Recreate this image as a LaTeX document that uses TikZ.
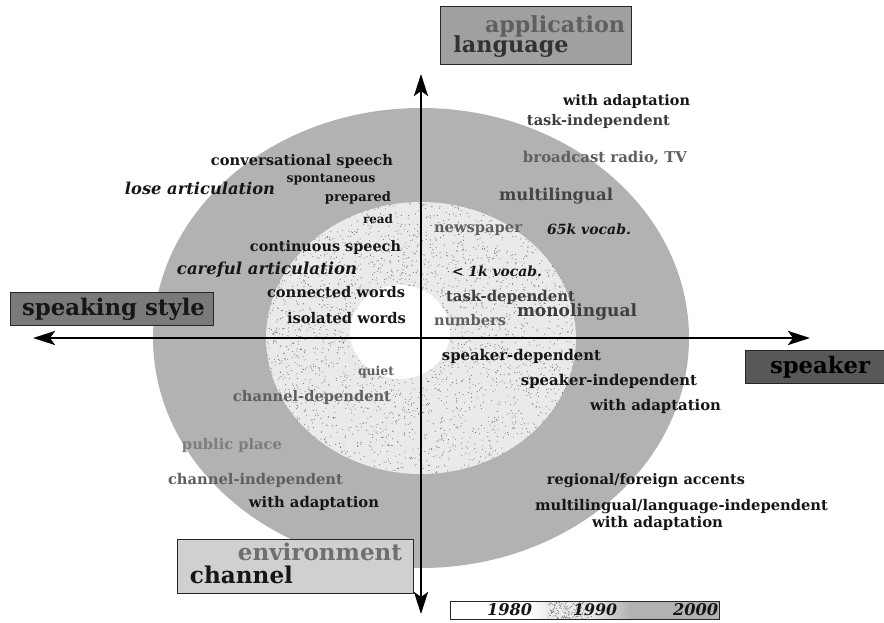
\documentclass[tikz,border=0pt]{standalone}
\usepackage{fontspec}
\setmainfont{DejaVu Serif}
\usetikzlibrary{arrows.meta}
\definecolor{outerg}{RGB}{178,178,178}
\definecolor{stipg}{RGB}{234,234,234}
\definecolor{dotg}{RGB}{115,115,115}
\definecolor{tblack}{RGB}{22,22,22}
\definecolor{tdark}{RGB}{62,62,62}
\definecolor{tmid}{RGB}{95,95,95}
\definecolor{tlight}{RGB}{125,125,125}
\definecolor{appfill}{RGB}{160,160,160}
\definecolor{stylefill}{RGB}{122,122,122}
\definecolor{spkfill}{RGB}{88,88,88}
\definecolor{envfill}{RGB}{208,208,208}
\newcommand\fitw[2]{\resizebox{#1pt}{!}{#2}}
\begin{document}
\begin{tikzpicture}[x=1pt,y=-1pt,
  lbl/.style={inner sep=0pt, font=\bfseries, text=tblack},
  lbli/.style={inner sep=0pt, font=\bfseries\itshape, text=tblack},
  boxnode/.style={draw=black!85, line width=0.8pt, inner sep=0pt},
  axisline/.style={line width=2.6pt, {Stealth[length=22pt,width=14pt,inset=5pt]}-{Stealth[length=22pt,width=14pt,inset=5pt]}}]
\useasboundingbox (0,0) rectangle (884,623);
% rings
\fill[outerg] (421,338) ellipse [x radius=268, y radius=230];
\begin{scope}
  \clip (421,338) ellipse [x radius=155, y radius=136];
  \fill[stipg] (421,338) ellipse [x radius=155, y radius=136];
  \pgfmathsetseed{11}
  \foreach \i in {1,...,3200}{
    \pgfmathsetmacro\px{266+310*rnd}
    \pgfmathsetmacro\py{202+272*rnd}
    \fill[dotg] (\px,\py) circle[radius=0.55];
  }
\end{scope}
\fill[white] (400,332) ellipse [x radius=50, y radius=47];
% axes
\coordinate (top) at (421,74);
\coordinate (bottom) at (421,614);
\coordinate (left) at (33,338);
\coordinate (right) at (810,338);
\draw[axisline] (bottom) -- (top);
\draw[axisline] (left) -- (right);
% boxes
\node[boxnode, fill=appfill, minimum width=191pt, minimum height=58pt] (appbox) at (535.5,35) {};
\node[lbl, text=tmid] (application) at (555,26) {\fitw{140}{application}};
\node[lbl, text=tdark!80!black] (language) at (511,47) {\fitw{115}{language}};
\node[boxnode, fill=stylefill, minimum width=203pt, minimum height=33pt] (stylebox) at (111.5,309) {};
\node[lbl] (speakingstyle) at (113.5,309) {\fitw{183}{speaking style}};
\node[boxnode, fill=spkfill, minimum width=141pt, minimum height=33pt] (spkbox) at (815.5,367) {};
\node[lbl, text=black] (speaker) at (820,367) {\fitw{100}{speaker}};
\node[boxnode, fill=envfill, minimum width=236pt, minimum height=54pt] (envbox) at (295,566) {};
\node[lbl, text=tmid!90!white] (environment) at (320,552) {\fitw{164}{environment}};
\node[lbl] (channel) at (241.5,575) {\fitw{103}{channel}};
% legend
\fill[white] (450,601) rectangle (530,619);
\shade[left color=white, right color=stipg] (530,601) rectangle (548,619);
\begin{scope}
  \clip (548,601) rectangle (592,619);
  \fill[stipg] (548,601) rectangle (592,619);
  \pgfmathsetseed{5}
  \foreach \i in {1,...,200}{
    \pgfmathsetmacro\px{548+44*rnd}
    \pgfmathsetmacro\py{601+18*rnd}
    \fill[dotg] (\px,\py) circle[radius=0.5];
  }
\end{scope}
\shade[left color=stipg, right color=outerg] (592,601) rectangle (630,619);
\fill[outerg] (630,601) rectangle (719,619);
\node[boxnode, fill=none, minimum width=269pt, minimum height=18pt] (legend) at (584.5,610) {};
\node[lbli] (y1980) at (509.5,610) {\fitw{45}{1980}};
\node[lbli] (y1990) at (595,610) {\fitw{44}{1990}};
\node[lbli] (y2000) at (695.5,610) {\fitw{45}{2000}};
% upper left: speaking style
\node[lbl] (conv) at (302,161) {\fitw{182}{conversational speech}};
\node[lbli] (lose) at (200,188) {\fitw{150}{lose articulation}};
\node[lbl] (spont) at (331,180) {\fitw{89}{spontaneous}};
\node[lbl] (prep) at (358,198) {\fitw{66}{prepared}};
\node[lbl] (read) at (378,219) {\fitw{30}{read}};
\node[lbl] (cont) at (325.5,248) {\fitw{151}{continuous speech}};
\node[lbli] (careful) at (267,270) {\fitw{180}{careful articulation}};
\node[lbl] (connected) at (336,292) {\fitw{138}{connected words}};
\node[lbl] (isolated) at (346.5,318) {\fitw{119}{isolated words}};
% upper right: application / language
\node[lbl] (adaptA) at (626.5,102) {\fitw{127}{with adaptation}};
\node[lbl, text=tdark] (taskind) at (598.5,121) {\fitw{143}{task-independent}};
\node[lbl, text=tmid] (broadcast) at (605,158) {\fitw{164}{broadcast radio, TV}};
\node[lbl, text=tdark!85!tmid] (multiling) at (556,196) {\fitw{114}{multilingual}};
\node[lbl, text=tmid] (newspaper) at (478,230) {\fitw{88}{newspaper}};
\node[lbli] (k65) at (589,229) {\fitw{84}{65k vocab.}};
\node[lbli] (k1) at (497,271) {\fitw{90}{< 1k vocab.}};
\node[lbl, text=tdark] (taskdep) at (510.5,297) {\fitw{129}{task-dependent}};
\node[lbl, text=tmid] (numbers) at (470,320) {\fitw{72}{numbers}};
\node[lbl, text=tdark] (monoling) at (577,312) {\fitw{120}{monolingual}};
% lower right: speaker
\node[lbl] (spkdep) at (521.5,356) {\fitw{159}{speaker-dependent}};
\node[lbl] (spkind) at (609,381) {\fitw{176}{speaker-independent}};
\node[lbl] (adaptB) at (655.5,406) {\fitw{131}{with adaptation}};
\node[lbl] (regional) at (646,481) {\fitw{198}{regional/foreign accents}};
\node[lbl] (multiind) at (681.5,507) {\fitw{293}{multilingual/language-independent}};
\node[lbl] (adaptC) at (657.5,523) {\fitw{131}{with adaptation}};
% lower left: environment / channel
\node[lbl, text=tmid] (quiet) at (376,372) {\fitw{36}{quiet}};
\node[lbl, text=tmid] (chandep) at (312,397) {\fitw{158}{channel-dependent}};
\node[lbl, text=tlight] (public) at (232,445) {\fitw{100}{public place}};
\node[lbl, text=tmid] (chanind) at (255.5,480) {\fitw{175}{channel-independent}};
\node[lbl] (adaptD) at (314,503) {\fitw{130}{with adaptation}};
\end{tikzpicture}
\end{document}
